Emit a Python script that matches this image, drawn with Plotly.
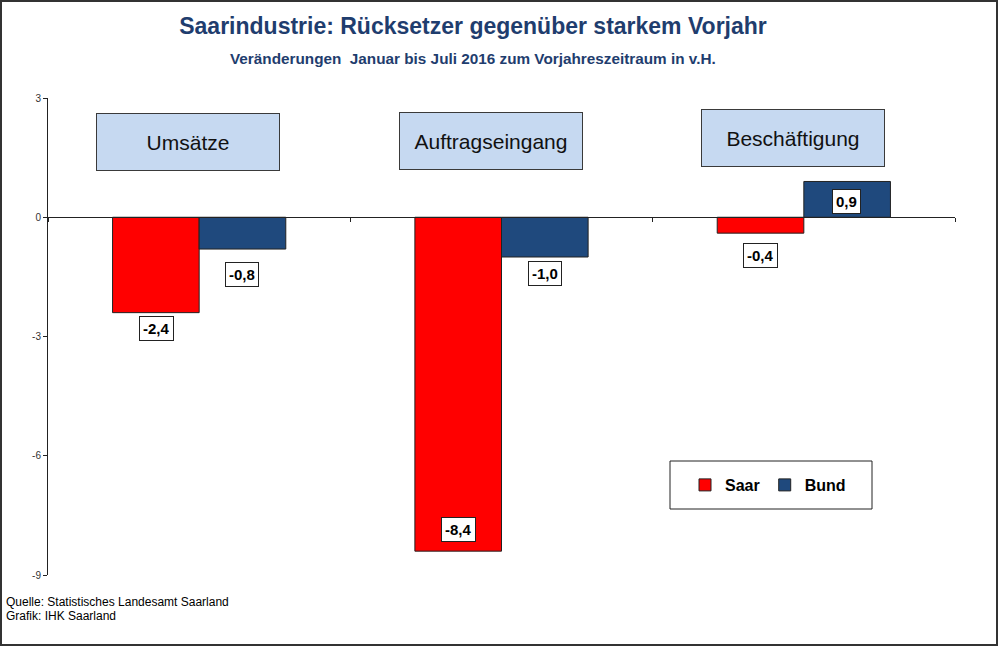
import plotly.graph_objects as go

# Daten: Veränderungen Januar bis Juli 2016 zum Vorjahreszeitraum in v.H.
categories = ["Umsätze", "Auftragseingang", "Beschäftigung"]
saar = [-2.4, -8.4, -0.4]
bund = [-0.8, -1.0, 0.9]
series_names = ["Saar", "Bund"]
y_ticks = [3, 0, -3, -6, -9]

# Layout-Hilfen (Pixel-Versatz der Wertekästen, Höhe der Kategoriekästen)
saar_label_shift = [-16, 22, -22]
bund_label_shift = [-25, -16, -20]
box_y = [1.89, 1.91, 1.99]

RED = "#FF0000"
BLUE = "#1F497D"
NAVY = "#1F3D6E"
FONT = "Liberation Sans, Arial, sans-serif"

W, H = 1000, 647
L, R, T, B = 48, 45, 98, 72
pw, ph = W - L - R, H - T - B


def px_x(x):
    return (x - L) / pw


def px_y(y):
    return (H - B - y) / ph


def fmt(v):
    return f"{v:.1f}".replace(".", ",")


fig = go.Figure()
fig.add_trace(go.Bar(x=categories, y=saar, name=series_names[0],
                     marker=dict(color=RED, line=dict(color="#222", width=1))))
fig.add_trace(go.Bar(x=categories, y=bund, name=series_names[1],
                     marker=dict(color=BLUE, line=dict(color="#222", width=1))))

annotations = []
for i, cat in enumerate(categories):
    for vals, shifts, xs in ((saar, saar_label_shift, -43), (bund, bund_label_shift, 43)):
        annotations.append(dict(
            x=cat, y=vals[i], xref="x", yref="y", xshift=xs, yshift=shifts[i],
            text=f"<b>{fmt(vals[i])}</b>", showarrow=False,
            font=dict(family=FONT, size=15, color="black"),
            bgcolor="white", bordercolor="#222", borderwidth=1, borderpad=3,
        ))
    annotations.append(dict(
        x=cat, y=box_y[i], xref="x", yref="y", xshift=-11,
        text=cat, showarrow=False, width=182, height=56,
        font=dict(family=FONT, size=21, color="#111"),
        bgcolor="#C6D9F1", bordercolor="#3A3A3A", borderwidth=1, borderpad=0,
    ))

annotations.append(dict(
    x=px_x(473), y=px_y(58), xref="paper", yref="paper",
    xanchor="center", yanchor="middle",
    text="<b>Veränderungen  Januar bis Juli 2016 zum Vorjahreszeitraum in v.H.</b>",
    showarrow=False, font=dict(family=FONT, size=15.3, color=NAVY),
))
annotations.append(dict(
    x=px_x(4), y=px_y(602), xref="paper", yref="paper",
    xanchor="left", yanchor="middle",
    text="Quelle: Statistisches Landesamt Saarland", showarrow=False,
    font=dict(family=FONT, size=12, color="black"),
))
annotations.append(dict(
    x=px_x(4), y=px_y(616), xref="paper", yref="paper",
    xanchor="left", yanchor="middle",
    text="Grafik: IHK Saarland", showarrow=False,
    font=dict(family=FONT, size=12, color="black"),
))

shapes = [
    # Legendenrahmen
    dict(type="rect", xref="paper", yref="paper",
         x0=px_x(670), x1=px_x(872), y0=px_y(509), y1=px_y(461),
         line=dict(color="#222", width=1), fillcolor="rgba(0,0,0,0)"),
    # äußerer Rahmen
    dict(type="rect", xref="paper", yref="paper",
         x0=px_x(1), x1=px_x(997), y0=px_y(645), y1=px_y(1),
         line=dict(color="#333", width=2), fillcolor="rgba(0,0,0,0)"),
]

fig.update_layout(
    width=W, height=H,
    margin=dict(l=L, r=R, t=T, b=B),
    paper_bgcolor="white", plot_bgcolor="white",
    barmode="group", bargap=0.427, bargroupgap=0,
    title=dict(text="<b>Saarindustrie: Rücksetzer gegenüber starkem Vorjahr</b>",
               x=0.473, xanchor="center", y=1 - 26 / H, yanchor="middle",
               yref="container", xref="container",
               font=dict(family=FONT, size=23, color=NAVY)),
    legend=dict(orientation="h", x=px_x(768), y=px_y(485),
                xanchor="center", yanchor="middle",
                bgcolor="rgba(0,0,0,0)", borderwidth=0,
                font=dict(family=FONT, size=16, color="black", weight="bold")),
    annotations=annotations,
    shapes=shapes,
    xaxis=dict(type="category", anchor="free", position=0.75,
               showline=True, linecolor="#222", linewidth=1,
               ticks="outside", tickson="boundaries", ticklen=4, tickcolor="#222",
               showticklabels=False, showgrid=False, zeroline=False),
    yaxis=dict(range=[-9, 3], tickvals=y_ticks, ticktext=[str(v) for v in y_ticks],
               showline=True, linecolor="#222", linewidth=1,
               ticks="outside", ticklen=4, tickcolor="#222",
               tickfont=dict(family=FONT, size=10, color="#333"),
               showgrid=False, zeroline=False),
)

fig.write_html("out.html", config={"displayModeBar": False},
               post_script="document.body.style.margin='0';")
